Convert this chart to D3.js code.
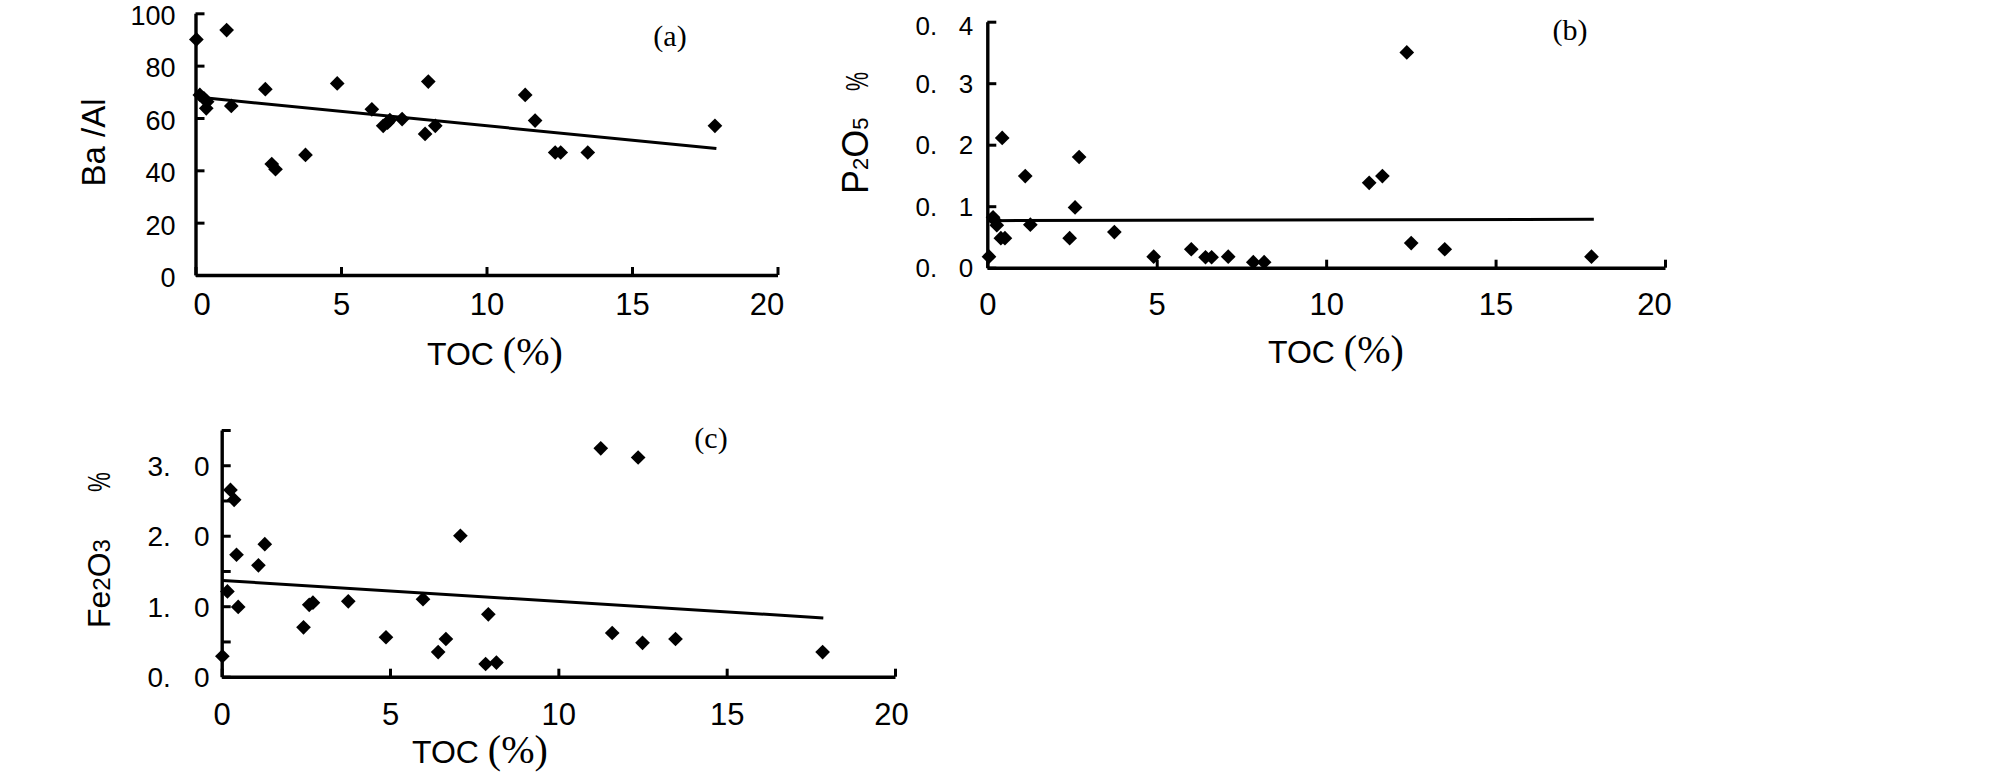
<!DOCTYPE html>
<html>
<head>
<meta charset="utf-8">
<script src="https://cdn.jsdelivr.net/npm/d3@7"></script>
<style>
  html, body { margin: 0; padding: 0; background: #fff; }
  svg { display: block; }
</style>
</head>
<body>
<svg id="chart" width="2008" height="778"></svg>
<script>
// ── Data ──

var xTicks = [0, 5, 10, 15, 20];
var yTicksA = [0, 20, 40, 60, 80, 100];
var yTicksB = [0, 0.1, 0.2, 0.3, 0.4];
var yTicksC = [0, 0.5, 1, 1.5, 2, 2.5, 3, 3.5];

// (a) Ba/Al vs TOC
var tocA = [0.03, 1.07, 0.15, 0.29, 0.40, 0.37, 1.23, 2.40, 2.62, 2.75, 3.78, 4.87, 6.06,
            6.45, 6.60, 6.68, 7.10, 7.89, 8.00, 8.24, 11.33, 11.67, 12.36, 12.55, 13.48, 17.85];
var baAl = [90.0, 93.6, 68.8, 67.5, 66.2, 63.7, 64.6, 71.0, 42.4, 40.4, 45.9, 73.2, 63.3,
            57.0, 58.2, 59.2, 59.6, 53.9, 73.9, 57.0, 68.8, 59.0, 46.8, 46.8, 46.8, 57.0];
var trendA = [[0.05, 68.0], [17.9, 48.3]];

// (b) P2O5 vs TOC
var tocB = [0.05, 0.17, 0.22, 0.28, 0.40, 0.52, 0.44, 1.12, 1.27, 2.43, 2.59, 2.71, 3.75,
            4.91, 6.02, 6.44, 6.62, 7.11, 7.85, 8.17, 11.27, 11.66, 12.38, 12.51, 13.50, 17.83];
var p2o5 = [0.018, 0.082, 0.077, 0.069, 0.048, 0.048, 0.211, 0.149, 0.070, 0.048, 0.098, 0.180, 0.058,
            0.018, 0.030, 0.017, 0.017, 0.018, 0.009, 0.009, 0.138, 0.149, 0.350, 0.040, 0.030, 0.018];
var trendB = [[0.05, 0.0765], [17.9, 0.0787]];

// (c) Fe2O3 vs TOC
var tocC = [0.02, 0.17, 0.26, 0.37, 0.44, 0.49, 1.09, 1.28, 2.43, 2.60, 2.71, 3.76, 4.88,
            5.98, 6.43, 6.66, 7.09, 7.84, 7.92, 8.16, 11.26, 11.60, 12.37, 12.50, 13.48, 17.85];
var fe2o3 = [0.29, 1.21, 2.65, 2.51, 1.73, 0.99, 1.58, 1.88, 0.70, 1.02, 1.05, 1.07, 0.56,
             1.10, 0.35, 0.535, 2.00, 0.18, 0.885, 0.20, 3.24, 0.62, 3.11, 0.48, 0.535, 0.35];
var trendC = [[0.03, 1.365], [17.87, 0.834]];

// ── Layout ──

var SANS = "'Liberation Sans', Arial, sans-serif";
var SERIF = "'Liberation Serif', 'Times New Roman', serif";
var GAP = '.\u2002\u2004';   // the wide gap after the decimal point

var panels = [
    {
        label: '(a)', toc: tocA, val: baAl, trend: trendA,
        yTicks: yTicksA, yDomain: [0, 100], yFormat: function(d) { return d; },
        left: 195.5, right: 777.5, bottom: 275, top: 13.3,
        yFont: 27, yDy: 0.42, yTopShift: 0, yPad: 20,
        xPad: 18, xShift: { 0: 6, 20: -11 },
        labelX: 670, labelY: 46,
        xTitleX: 427, xTitleY: 365,
        yTitle: { x: 105, y: 142.5, anchor: 'middle', parts: [['Ba /Al', 33]] }
    },
    {
        label: '(b)', toc: tocB, val: p2o5, trend: trendB,
        yTicks: yTicksB, yDomain: [0, 0.4],
        yFormat: function(d) { return d.toFixed(1).replace('.', GAP); },
        left: 987.3, right: 1665, bottom: 267.7, top: 21.7,
        yFont: 26, yDy: 0.34, yTopShift: 4, yPad: 14,
        xPad: 25, xShift: { 20: -11 },
        labelX: 1570, labelY: 40,
        xTitleX: 1268, xTitleY: 363,
        yTitle: { x: 868, y: 194, anchor: 'start',
                  parts: [['P', 36], ['2', 22], ['O', 36], ['5', 22]],
                  pct: { y: 91, size: 32, sx: 0.67 } }
    },
    {
        label: '(c)', toc: tocC, val: fe2o3, trend: trendC,
        yTicks: yTicksC, yDomain: [0, 3.5],
        yFormat: function(d) { return d % 1 === 0 ? d.toFixed(1).replace('.', GAP) : ''; },
        left: 221.7, right: 895, bottom: 676.7, top: 430,
        yFont: 28, yDy: 0.36, yTopShift: 0, yPad: 12,
        xPad: 26, xShift: { 20: -4 },
        labelX: 711, labelY: 448,
        xTitleX: 412, xTitleY: 763,
        yTitle: { x: 110, y: 628, anchor: 'start',
                  parts: [['Fe', 32], ['2', 24], ['O', 32], ['3', 24]],
                  pct: { y: 492, size: 32, sx: 0.7 } }
    }
];

var svg = d3.select('#chart');
var diamond = d3.symbol().type(d3.symbolSquare).size(108);

panels.forEach(drawPanel);

function drawPanel(p) {
    var x = d3.scaleLinear().domain([0, 20]).range([p.left, p.right]);
    var y = d3.scaleLinear().domain(p.yDomain).range([p.bottom, p.top]);
    var g = svg.append('g');
    var yMax = p.yDomain[1];

    // Axes, ticks pointing inward
    var xAxis = d3.axisBottom(x).tickValues(xTicks)
        .tickSizeInner(-8).tickSizeOuter(0).tickPadding(p.xPad);
    var yAxis = d3.axisLeft(y).tickValues(p.yTicks).tickFormat(p.yFormat)
        .tickSizeInner(-9).tickSizeOuter(0).tickPadding(p.yPad);

    var gx = g.append('g').attr('transform', 'translate(0,' + p.bottom + ')').call(xAxis);
    var gy = g.append('g').attr('transform', 'translate(' + p.left + ',0)').call(yAxis);

    [gx, gy].forEach(function(ax) {
        ax.select('.domain').attr('stroke', '#000').attr('stroke-width', 3.4);
        ax.selectAll('.tick line').attr('stroke', '#000').attr('stroke-width', 3);
        ax.selectAll('.tick text').attr('fill', '#000').style('font-family', SANS);
    });
    gx.selectAll('.tick text')
        .style('font-size', '31px')
        .attr('dx', function(d) { return p.xShift[d] || 0; });
    gy.selectAll('.tick text')
        .style('font-size', p.yFont + 'px')
        .attr('dy', p.yDy + 'em')
        .attr('y', function(d) { return d === yMax ? p.yTopShift : 0; });

    // Trend line
    g.append('path')
        .datum(p.trend)
        .attr('fill', 'none')
        .attr('stroke', '#000')
        .attr('stroke-width', 3)
        .attr('d', d3.line().x(function(d) { return x(d[0]); }).y(function(d) { return y(d[1]); }));

    // Diamond markers
    g.selectAll('.pt')
        .data(p.toc.map(function(t, i) { return [t, p.val[i]]; }))
        .enter().append('path')
        .attr('class', 'pt')
        .attr('d', diamond)
        .attr('fill', '#000')
        .attr('transform', function(d) {
            return 'translate(' + x(d[0]) + ',' + y(d[1]) + ') rotate(45)';
        });

    // Panel letter
    g.append('text')
        .attr('x', p.labelX).attr('y', p.labelY)
        .attr('text-anchor', 'middle')
        .style('font-family', SERIF).style('font-size', '30px')
        .text(p.label);

    // X title: TOC (%)
    var xt = g.append('text')
        .attr('x', p.xTitleX).attr('y', p.xTitleY)
        .style('font-family', SANS).style('font-size', '32px');
    xt.append('tspan').text('TOC ');
    xt.append('tspan').style('font-family', SERIF).style('font-size', '40px').text('(%)');

    // Y title, rotated
    var yt = g.append('text')
        .attr('transform', 'translate(' + p.yTitle.x + ',' + p.yTitle.y + ') rotate(-90)')
        .attr('text-anchor', p.yTitle.anchor)
        .style('font-family', SANS);
    p.yTitle.parts.forEach(function(part) {
        yt.append('tspan').style('font-size', part[1] + 'px').text(part[0]);
    });

    // the narrow "%" that follows the formula
    if (p.yTitle.pct) {
        var pc = p.yTitle.pct;
        g.append('text')
            .attr('transform', 'translate(' + p.yTitle.x + ',' + pc.y + ') rotate(-90) scale(' + pc.sx + ',1)')
            .style('font-family', SANS).style('font-size', pc.size + 'px')
            .text('%');
    }
}
</script>
</body>
</html>
